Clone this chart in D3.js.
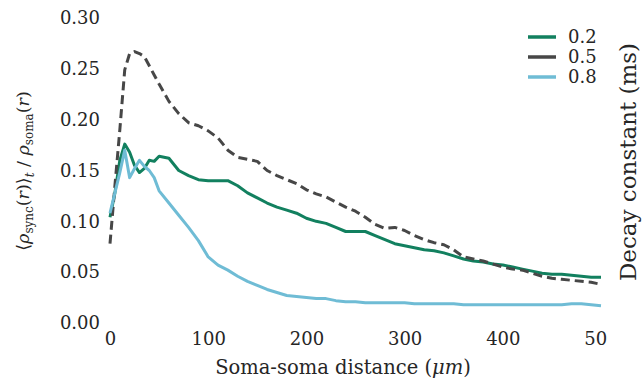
<!DOCTYPE html>
<html>
<head>
<meta charset="utf-8">
<script src="https://cdn.jsdelivr.net/npm/d3@7"></script>
<style>
  body { margin: 0; background: #fff; }
  svg { display: block; }
  text { font-family: "DejaVu Serif", serif; fill: #262626; }
</style>
</head>
<body>
<svg></svg>
<script>
const width = 642;
const height = 384;

// soma-soma distance (um)
const distances = [0, 5, 10, 15, 20, 25, 30, 35, 40, 45, 50, 60, 70, 80, 90, 100, 110, 120, 130, 140, 150,
  160, 170, 180, 190, 200, 210, 220, 230, 240, 250, 260, 270, 280, 290, 300, 310, 320, 330, 340, 350,
  360, 370, 380, 390, 400, 410, 420, 430, 440, 450, 460, 470, 480, 490, 500];

// decay constant 0.2 ms
const decay02 = [0.104, 0.128, 0.160, 0.176, 0.168, 0.155, 0.148, 0.152, 0.160, 0.159, 0.164, 0.162, 0.150,
  0.145, 0.141, 0.140, 0.140, 0.140, 0.135, 0.128, 0.123, 0.118, 0.114, 0.111, 0.108, 0.103, 0.100, 0.098,
  0.094, 0.090, 0.090, 0.090, 0.086, 0.082, 0.078, 0.076, 0.074, 0.072, 0.071, 0.069, 0.066, 0.063, 0.061,
  0.060, 0.058, 0.057, 0.055, 0.053, 0.051, 0.049, 0.048, 0.048, 0.047, 0.046, 0.045, 0.045];

// decay constant 0.5 ms
const decay05 = [0.078, 0.135, 0.190, 0.249, 0.265, 0.267, 0.265, 0.262, 0.253, 0.244, 0.235, 0.218, 0.206,
  0.197, 0.194, 0.189, 0.182, 0.170, 0.163, 0.161, 0.159, 0.150, 0.145, 0.141, 0.137, 0.131, 0.127, 0.124,
  0.119, 0.114, 0.110, 0.104, 0.097, 0.093, 0.094, 0.091, 0.086, 0.082, 0.079, 0.077, 0.072, 0.065, 0.063,
  0.061, 0.058, 0.055, 0.053, 0.052, 0.049, 0.046, 0.044, 0.043, 0.042, 0.041, 0.040, 0.038];

// decay constant 0.8 ms
const decay08 = [0.108, 0.128, 0.148, 0.170, 0.143, 0.152, 0.160, 0.154, 0.150, 0.143, 0.130, 0.118, 0.106,
  0.094, 0.081, 0.065, 0.057, 0.052, 0.046, 0.041, 0.037, 0.033, 0.030, 0.027, 0.026, 0.025, 0.024, 0.024,
  0.022, 0.021, 0.021, 0.020, 0.020, 0.020, 0.020, 0.020, 0.019, 0.019, 0.019, 0.019, 0.019, 0.018, 0.018,
  0.018, 0.018, 0.018, 0.018, 0.018, 0.018, 0.018, 0.018, 0.018, 0.019, 0.019, 0.018, 0.017];

const seriesNames = ["0.2", "0.5", "0.8"];
const xTicks = [0, 100, 200, 300, 400, 500];
const yTicks = [0, 0.05, 0.10, 0.15, 0.20, 0.25, 0.30];

const series = [
  { name: seriesNames[0], values: decay02, color: "#12805f", dash: null },
  { name: seriesNames[1], values: decay05, color: "#474747", dash: "9,5" },
  { name: seriesNames[2], values: decay08, color: "#6fbcd5", dash: null }
];

const svg = d3.select("svg").attr("width", width).attr("height", height);

const x = d3.scaleLinear().domain([0, 500]).range([110, 601]);
const y = d3.scaleLinear().domain([0, 0.3]).range([323, 18]);

// y axis, labels only
const yAxis = svg.append("g")
  .attr("transform", "translate(110,0)")
  .call(d3.axisLeft(y).tickValues(yTicks).tickFormat(d3.format(".2f")).tickSize(0).tickPadding(10));
yAxis.select(".domain").remove();
yAxis.selectAll("text").style("font-size", "18px").style("font-family", "DejaVu Serif").attr("fill", "#262626");

// x axis, labels only; the last label is cut off at the figure edge
svg.append("clipPath").attr("id", "xclip")
  .append("rect").attr("x", 0).attr("y", 0).attr("width", 608).attr("height", height);
const xAxis = svg.append("g")
  .attr("transform", "translate(0,323)")
  .attr("clip-path", "url(#xclip)")
  .call(d3.axisBottom(x).tickValues(xTicks).tickFormat(d3.format("d")).tickSize(0).tickPadding(9));
xAxis.select(".domain").remove();
xAxis.selectAll("text").style("font-size", "18px").style("font-family", "DejaVu Serif").attr("fill", "#262626");

// lines
const line = d3.line()
  .x((d, i) => x(distances[i]))
  .y(d => y(d));

svg.selectAll("path.series")
  .data(series)
  .join("path")
  .attr("class", "series")
  .attr("fill", "none")
  .attr("stroke", d => d.color)
  .attr("stroke-width", 3)
  .attr("stroke-linejoin", "round")
  .attr("stroke-dasharray", d => d.dash)
  .attr("d", d => line(d.values));

// x title
const xTitle = svg.append("text")
  .attr("x", 343)
  .attr("y", 374)
  .attr("text-anchor", "middle")
  .style("font-size", "19.5px");
xTitle.append("tspan").text("Soma-soma distance (");
xTitle.append("tspan").attr("font-style", "italic").text("μm");
xTitle.append("tspan").text(")");

// y title
const yTitle = svg.append("text")
  .attr("transform", "translate(29,171) rotate(-90)")
  .attr("text-anchor", "middle")
  .style("font-size", "17.5px");
yTitle.append("tspan").text("⟨");
yTitle.append("tspan").attr("font-style", "italic").text("ρ");
yTitle.append("tspan").attr("font-size", "12px").attr("dy", 4).text("sync");
yTitle.append("tspan").attr("dy", -4).text("(");
yTitle.append("tspan").attr("font-style", "italic").text("r");
yTitle.append("tspan").text(")⟩");
yTitle.append("tspan").attr("font-size", "12px").attr("font-style", "italic").attr("dy", 5).text("t");
yTitle.append("tspan").attr("dy", -5).text(" / ");
yTitle.append("tspan").attr("font-style", "italic").text("ρ");
yTitle.append("tspan").attr("font-size", "12px").attr("dy", 4).text("soma");
yTitle.append("tspan").attr("dy", -4).text("(");
yTitle.append("tspan").attr("font-style", "italic").text("r");
yTitle.append("tspan").text(")");

// right title
svg.append("text")
  .attr("transform", "translate(636,162) rotate(-90)")
  .attr("text-anchor", "middle")
  .style("font-size", "23px")
  .text("Decay constant (ms)");

// legend
const legend = svg.append("g").attr("transform", "translate(528,37)");
const items = legend.selectAll("g")
  .data(series)
  .join("g")
  .attr("transform", (d, i) => `translate(0,${i * 20})`);
items.append("line")
  .attr("x1", 0).attr("x2", 28)
  .attr("stroke", d => d.color)
  .attr("stroke-width", 3.5);
items.append("text")
  .attr("x", 40)
  .attr("dy", "0.35em")
  .style("font-size", "18px")
  .text(d => d.name);
</script>
</body>
</html>
